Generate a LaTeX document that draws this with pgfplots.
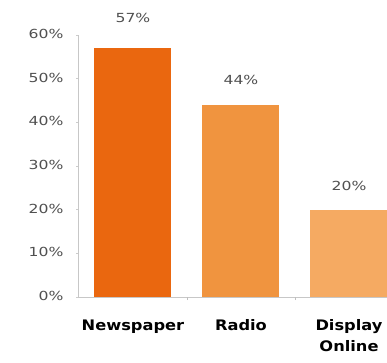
\documentclass[border=0pt]{standalone}
\usepackage{fontspec}
\usepackage{pgfplots}
\pgfplotsset{compat=1.18}
\setmainfont{DejaVu Sans}
\newfontfamily\tickfont{DejaVu Sans}[FakeStretch=1.25]
\newfontfamily\catfont{DejaVu Sans Bold}[FakeStretch=1.12]
\definecolor{cNews}{HTML}{EA670F}
\definecolor{cRadio}{HTML}{F0943F}
\definecolor{cDisp}{HTML}{F5AA62}
\definecolor{tickgray}{HTML}{505050}
\begin{document}
\begin{tikzpicture}[x=1pt,y=1pt]
\begin{axis}[
  at={(78pt,65pt)}, anchor=south west,
  scale only axis, width=309pt, height=262pt,
  xmin=-0.509, xmax=2.352, ymin=0, ymax=60,
  axis x line*=bottom, axis y line*=left,
  axis line style={-, draw=black!22, line width=0.8pt},
  ytick={0,10,20,30,40,50,60},
  yticklabels={0\%,10\%,20\%,30\%,40\%,50\%,60\%},
  yticklabel style={font=\fontsize{12.5}{14}\tickfont, text=tickgray, xshift=-9pt, yshift=1pt},
  ytick style={draw=black!20, line width=0.6pt},
  tick align=outside, major tick length=2pt,
  xtick={0,1,2},
  xticklabels={Newspaper, Radio, Display\\Online},
  xticklabel style={font=\fontsize{14.5}{21}\catfont, text=black, align=center, anchor=north, yshift=-17pt},
  xtick style={draw=none},
  extra x ticks={0.5,1.5}, extra x tick labels={},
  extra x tick style={xtick style={draw=black!25, line width=0.6pt}, major tick length=3pt},
  ybar, bar width=77pt,
  every axis plot/.append style={bar shift=0pt, draw=none},
  nodes near coords style={font=\fontsize{12.5}{14}\tickfont, text=tickgray, anchor=center},
  clip=false,
]
\addplot[fill=cNews, nodes near coords={57\%}, every node near coord/.append style={yshift=30pt}] coordinates {(0,57)};
\addplot[fill=cRadio, nodes near coords={44\%}, every node near coord/.append style={yshift=25pt}] coordinates {(1,44)};
\addplot[fill=cDisp, nodes near coords={20\%}, every node near coord/.append style={yshift=24pt}] coordinates {(2,20)};
\end{axis}
\pgfresetboundingbox
\path (0,0) rectangle (387,362);
\end{tikzpicture}
\end{document}
